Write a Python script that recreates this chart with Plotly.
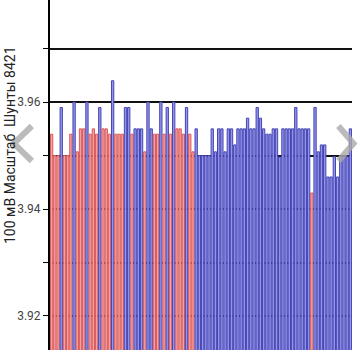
import plotly.graph_objects as go

values = [3.954,3.950,3.950,3.959,3.950,3.950,3.954,3.960,3.9507,3.955,
          3.955,3.960,3.954,3.955,3.954,3.959,3.955,3.955,3.954,3.964,
          3.954,3.954,3.954,3.959,3.959,3.954,3.955,3.955,3.955,3.9507,
          3.960,3.955,3.954,3.954,3.960,3.954,3.959,3.954,3.960,3.955,
          3.955,3.954,3.959,3.954,3.9507,3.955,3.950,3.950,3.950,3.950,
          3.955,3.9507,3.955,3.955,3.9507,3.955,3.955,3.952,3.955,3.955,
          3.955,3.957,3.955,3.955,3.959,3.957,3.955,3.954,3.954,3.955,
          3.955,3.9497,3.955,3.955,3.955,3.955,3.959,3.955,3.955,3.955,
          3.955,3.943,3.959,3.9507,3.952,3.952,3.946,3.946,3.9498,3.946,
          3.9498,3.9498,3.9498,3.955]
groups = list("rrrbrrrbrrrbrrrbrrrbrrrbbrbbbrbbrrbrbrbrrrbrrbbbbbbbbbbbbbbbbbbbbbbbbbbbbbbbbbbbbrbbbbbbbbbbbb")
groups = groups[:len(values)]
tick_vals = [3.92, 3.93, 3.94, 3.95, 3.96, 3.97]
tick_text = ["3.92", "", "3.94", "", "3.96", ""]
y_title = "100 мВ Масштаб  Шунты 8421"

fill = {"r": "#f4a0a0", "b": "#9494ea"}
edge = {"r": "#d85a5a", "b": "#4646b4"}

Y0, Y1 = 3.91364, 3.9791

fig = go.Figure(go.Bar(
    x=list(range(len(values))), y=values,
    marker=dict(color=[fill[g] for g in groups],
                line=dict(color=[edge[g] for g in groups], width=1)),
))

fig.update_layout(
    width=359, height=350,
    margin=dict(l=50, r=7, t=0, b=0),
    paper_bgcolor="white", plot_bgcolor="white",
    showlegend=False, bargap=0.28,
    font=dict(family="Roboto", size=12, color="#333333"),
)
fig.update_xaxes(visible=False, range=[-0.5, len(values) - 0.5])
fig.update_yaxes(range=[Y0, Y1], tickvals=tick_vals, ticktext=tick_text,
                 showgrid=True, gridcolor="#111111", gridwidth=1.5,
                 showline=True, linecolor="black", linewidth=2,
                 ticks="outside", ticklen=5, tickcolor="black", zeroline=False,
                 tickfont=dict(size=12, color="#444444"))
fig.add_annotation(text="3.98", xref="paper", yref="paper", x=0, y=(3.98 - Y0) / (Y1 - Y0),
                   xanchor="right", yanchor="middle", xshift=-8, yshift=5,
                   showarrow=False, font=dict(size=12, color="#444444"))
fig.add_annotation(text=y_title, xref="paper", yref="paper", x=0, xshift=-40,
                   xanchor="center", yanchor="middle", y=1 - 145 / 350,
                   textangle=-90, showarrow=False, font=dict(size=14, color="#222222"))
# navigation chevrons
fig.add_shape(type="path", xref="paper", yref="paper",
              path="M -0.06 0.64 L -0.12 0.59 L -0.06 0.54",
              line=dict(color="rgba(170,170,170,0.8)", width=6))
fig.add_shape(type="path", xref="paper", yref="paper",
              path="M 0.955 0.64 L 1.005 0.59 L 0.955 0.54",
              line=dict(color="rgba(170,170,170,0.8)", width=6))
fig.write_html("out.html")
